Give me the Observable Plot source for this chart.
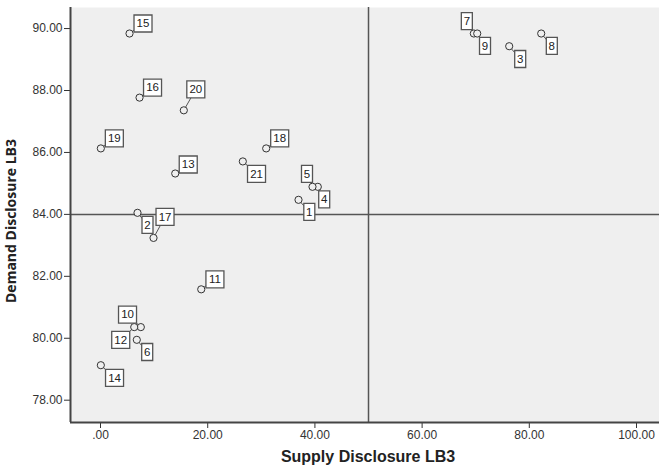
<!DOCTYPE html>
<html>
<head>
<meta charset="utf-8">
<script src="https://cdn.jsdelivr.net/npm/d3@7"></script>
<script src="https://cdn.jsdelivr.net/npm/@observablehq/plot@0.6"></script>
<style>
  html, body { margin: 0; padding: 0; background: #ffffff; }
  #chart { width: 659px; height: 468px; }
</style>
</head>
<body>
<div id="chart"></div>
<script>
// ---- data ----
const ids = [1, 2, 3, 4, 5, 6, 7, 8, 9, 10, 11, 12, 13, 14, 15, 16, 17, 18, 19, 20, 21];
const supplyDisclosure = [36.94, 6.90, 76.25, 40.54, 39.55, 6.77, 69.65, 82.22, 70.28, 7.52, 18.79,
                          6.29, 13.94, 0.06, 5.41, 7.28, 9.89, 30.91, 0.06, 15.54, 26.55];
const demandDisclosure = [84.47, 84.05, 89.43, 84.89, 84.89, 79.95, 89.84, 89.84, 89.84, 80.36, 81.58,
                          80.36, 85.32, 79.13, 89.84, 87.77, 83.24, 86.13, 86.13, 87.36, 85.71];
const xTicks = [0, 20, 40, 60, 80, 100];
const yTicks = [78, 80, 82, 84, 86, 88, 90];
const xReference = 50;
const yReference = 84;

// label box placement (pixel offset of the box centre from its point)
const labelOffset = {
  1: [10.8, 12], 2: [10, 12], 3: [11, 12.8], 4: [6.4, 12.6], 5: [-5.5, -13],
  6: [10.4, 12.2], 7: [-7, -12.3], 8: [10.6, 12.4], 9: [7.8, 12.4], 10: [-13.3, -12.5],
  11: [13.7, -10], 12: [-13.5, 12.8], 13: [13, -9], 14: [13.7, 12.7], 15: [13.5, -10],
  16: [13, -10], 17: [11.5, -21], 18: [13.5, -10], 19: [13.5, -10], 20: [12, -21], 21: [13.7, 12.4]
};

const points = ids.map((id, i) => ({id, x: supplyDisclosure[i], y: demandDisclosure[i]}));

const xDomain = [-5.6, 104.29];
const yDomain = [77.28, 90.68];

function boxSymbol(w, h) {
  return {draw(ctx) { ctx.rect(-w / 2, -h / 2, w, h); }};
}
function leaderSymbol(dx, dy) {
  return {draw(ctx) { ctx.moveTo(0, 0); ctx.lineTo(dx, dy); }};
}

const labelMarks = [];
const boxMarks = [];
for (const p of points) {
  const [dx, dy] = labelOffset[p.id];
  const w = String(p.id).length > 1 ? 18 : 11;
  labelMarks.push(Plot.dot([p], {x: "x", y: "y", symbol: leaderSymbol(dx, dy), r: 4,
    fill: "none", stroke: "#555", strokeWidth: 1}));
  boxMarks.push(Plot.dot([p], {x: "x", y: "y", dx, dy, symbol: boxSymbol(w, 17), r: 4,
    fill: "#ffffff", stroke: "#555", strokeWidth: 1.3}));
  boxMarks.push(Plot.text([p], {x: "x", y: "y", dx, dy, text: d => String(d.id),
    fontSize: 11.5, fill: "#222", fontFamily: "Liberation Sans, Arial, sans-serif"}));
}

const fmt = d => d === 0 ? ".00" : d.toFixed(2);

const chart = Plot.plot({
  width: 659,
  height: 468,
  marginLeft: 70,
  marginRight: 0,
  marginTop: 7,
  marginBottom: 46,
  style: {fontFamily: "Liberation Sans, Arial, sans-serif", fontSize: "12px", color: "#333", background: "#ffffff"},
  x: {domain: xDomain, ticks: xTicks, tickFormat: fmt, tickSize: 6, tickPadding: 2, label: null},
  y: {domain: yDomain, ticks: yTicks, tickFormat: fmt, tickSize: 6, tickPadding: 2, label: null},
  marks: [
    Plot.frame({fill: "#efefef", stroke: null}),
    Plot.ruleX([xReference], {stroke: "#555", strokeWidth: 1.5}),
    Plot.ruleY([yReference], {stroke: "#555", strokeWidth: 1.5}),
    Plot.ruleX([xDomain[0]], {stroke: "#444", strokeWidth: 2}),
    Plot.ruleY([yDomain[0]], {stroke: "#444", strokeWidth: 2}),
    ...labelMarks,
    Plot.dot(points, {x: "x", y: "y", r: 3.6, fill: "#efefef", stroke: "#333", strokeWidth: 1}),
    ...boxMarks,
    Plot.text([0], {frameAnchor: "bottom", textAnchor: "middle", lineAnchor: "middle",
      dx: 3, dy: 34.5, text: () => "Supply Disclosure LB3",
      fontFamily: "Liberation Sans, Arial, sans-serif", fontWeight: "bold", fontSize: 16, fill: "#222"}),
    Plot.text([0], {frameAnchor: "left", textAnchor: "middle", lineAnchor: "middle", rotate: -90,
      dx: -58.5, dy: 6, text: () => "Demand Disclosure LB3",
      fontFamily: "Open Sans, Noto Sans, sans-serif", fontWeight: "bold", fontSize: 14, fill: "#222"})
  ]
});
document.getElementById("chart").appendChild(chart);
</script>
</body>
</html>
